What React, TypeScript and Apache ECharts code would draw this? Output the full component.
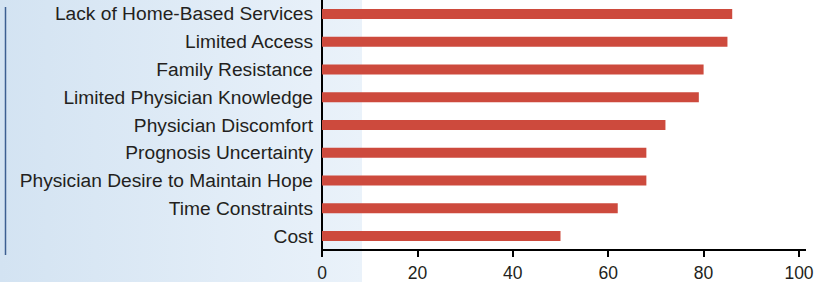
import React, { useEffect, useRef } from "react";
import * as echarts from "echarts";

const categories = [
  "Lack of Home-Based Services",
  "Limited Access",
  "Family Resistance",
  "Limited Physician Knowledge",
  "Physician Discomfort",
  "Prognosis Uncertainty",
  "Physician Desire to Maintain Hope",
  "Time Constraints",
  "Cost",
];
const values = [86, 85, 80, 79, 72, 68, 68, 62, 50];
const xTicks = [0, 20, 40, 60, 80, 100];

export default function App() {
  const ref = useRef<HTMLDivElement>(null);
  useEffect(() => {
    document.body.style.margin = "0";
    if (!ref.current) return;
    const chart = echarts.init(ref.current, undefined, { renderer: "svg" });
    const font = "'Liberation Sans', Arial, Helvetica, sans-serif";
    chart.setOption({
      animation: false,
      backgroundColor: "#ffffff",
      graphic: [
        {
          type: "rect",
          z: -10,
          silent: true,
          shape: { x: 0, y: 0, width: 362, height: 282 },
          style: {
            fill: new echarts.graphic.LinearGradient(0, 0, 1, 0, [
              { offset: 0, color: "#d3e3f2" },
              { offset: 1, color: "#eaf2fa" },
            ]),
          },
        },
        {
          type: "line",
          silent: true,
          shape: { x1: 5.5, y1: 7, x2: 5.5, y2: 255 },
          style: { stroke: "#3c5f91", lineWidth: 1.5 },
        },
        {
          type: "line",
          silent: true,
          shape: { x1: 798, y1: 250, x2: 806, y2: 250 },
          style: { stroke: "#000000", lineWidth: 2 },
        },
      ],
      grid: { left: 322, right: 18, top: -2, bottom: 32, containLabel: false },
      xAxis: {
        type: "value",
        min: xTicks[0],
        max: xTicks[xTicks.length - 1],
        interval: 20,
        axisLine: { show: true, lineStyle: { color: "#000", width: 2 } },
        axisTick: { show: true, length: 7, lineStyle: { color: "#000", width: 2 } },
        axisLabel: { color: "#231f20", fontSize: 17.5, fontFamily: font, margin: 14 },
        splitLine: { show: false },
      },
      yAxis: {
        type: "category",
        data: categories,
        inverse: true,
        axisLine: { show: true, lineStyle: { color: "#000", width: 2 } },
        axisTick: { show: false },
        axisLabel: {
          color: "#231f20",
          fontSize: 19.2,
          fontFamily: font,
          margin: 9,
          padding: [9, 0, 0, 0],
        },
      },
      series: [
        {
          type: "bar",
          data: values,
          barWidth: 10,
          itemStyle: { color: "#cd4a3d" },
          silent: true,
        },
      ],
    });
    return () => chart.dispose();
  }, []);
  return <div ref={ref} style={{ width: 817, height: 282 }} />;
}
